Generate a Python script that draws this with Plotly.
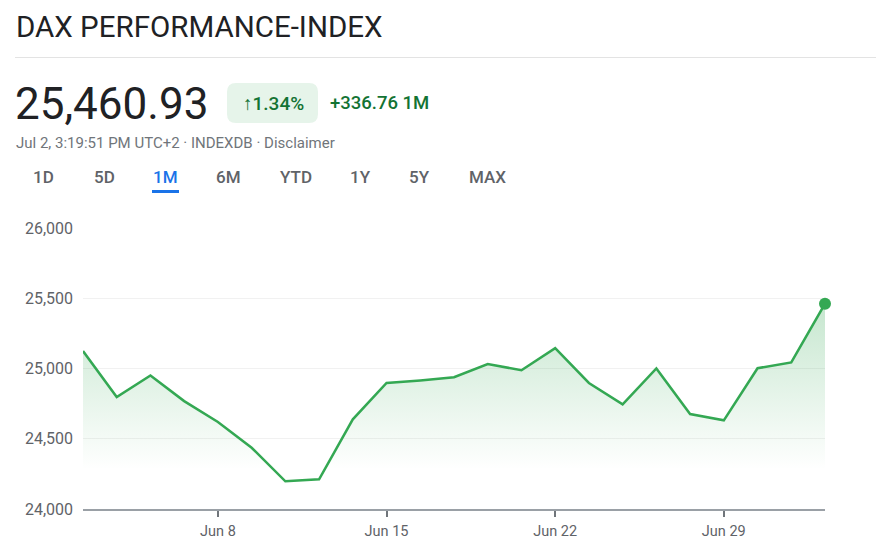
import plotly.graph_objects as go

# ---- data ----
dates = ["Jun 2", "Jun 3", "Jun 4", "Jun 5",
         "Jun 8", "Jun 9", "Jun 10", "Jun 11", "Jun 12",
         "Jun 15", "Jun 16", "Jun 17", "Jun 18", "Jun 19",
         "Jun 22", "Jun 23", "Jun 24", "Jun 25", "Jun 26",
         "Jun 29", "Jun 30", "Jul 1", "Jul 2"]
values = [25124.17, 24797, 24950, 24768,
          24619, 24436, 24197, 24211, 24638,
          24897, 24915, 24938, 25031, 24988,
          25145, 24897, 24745, 25000, 24676,
          24631, 25002, 25043, 25460.93]
tick_dates = ["Jun 8", "Jun 15", "Jun 22", "Jun 29"]
y_ticks = [24000, 24500, 25000, 25500, 26000]
range_buttons = ["1D", "5D", "1M", "6M", "YTD", "1Y", "5Y", "MAX"]
button_x = [43, 104, 165, 228, 296, 360, 419, 487]

title = "DAX PERFORMANCE-INDEX"
price = "25,460.93"
pct = "↑1.34%"
change = "+336.76 1M"
subtitle = "Jul 2, 3:19:51 PM UTC+2 · INDEXDB · Disclaimer"

OFF = 8  # page body margin
W, H = 884 - OFF, 548 - OFF
L, R, T, B = 83, 825, 228, 509  # page pixel coords of plot area
GREEN = "#34a853"
TEXT_GREEN = "#137333"
FONT = "Roboto"


def px(x):
    return (x - L) / (R - L)


def py(y):
    return (B - y) / (B - T)


fig = go.Figure()
fig.add_trace(go.Scatter(
    x=dates, y=values, mode="lines",
    line=dict(color=GREEN, width=2.5),
    fill="tozeroy",
    fillgradient=dict(type="vertical",
                      colorscale=[[0, "rgba(52,168,83,0)"], [1, "rgba(52,168,83,0.28)"]],
                      start=24280, stop=values[-1]),
    hoverinfo="skip", cliponaxis=False, showlegend=False))
fig.add_trace(go.Scatter(
    x=[dates[-1]], y=[values[-1]], mode="markers",
    marker=dict(color=GREEN, size=12),
    cliponaxis=False, showlegend=False, hoverinfo="skip"))

annotations = [
    dict(text=title, x=px(14), y=py(27), xanchor="left", yanchor="middle",
         font=dict(family=FONT, size=29.5, color="#202124")),
    dict(text=price, x=px(13), y=py(104), xanchor="left", yanchor="middle",
         font=dict(family=FONT, size=44, color="#202124")),
    dict(text=pct, x=px(273), y=py(103), xanchor="center", yanchor="middle",
         font=dict(family=FONT, size=19, color=TEXT_GREEN, weight=500)),
    dict(text=change, x=px(328), y=py(103), xanchor="left", yanchor="middle",
         font=dict(family=FONT, size=18.5, color=TEXT_GREEN, weight=500)),
    dict(text=subtitle, x=px(14), y=py(143), xanchor="left", yanchor="middle",
         font=dict(family=FONT, size=15, color="#70757a")),
]
for lab, bx in zip(range_buttons, button_x):
    annotations.append(dict(
        text=lab, x=px(bx), y=py(177), xanchor="center", yanchor="middle",
        font=dict(family=FONT, size=17, weight=500,
                  color="#1a73e8" if lab == "1M" else "#5f6368")))
for a in annotations:
    a.update(xref="paper", yref="paper", showarrow=False)


def rounded_rect(x0, y0, x1, y1, r):
    X = px
    Y = py
    return (f"M {X(x0 + r)},{Y(y0)} L {X(x1 - r)},{Y(y0)} Q {X(x1)},{Y(y0)} {X(x1)},{Y(y0 + r)} "
            f"L {X(x1)},{Y(y1 - r)} Q {X(x1)},{Y(y1)} {X(x1 - r)},{Y(y1)} "
            f"L {X(x0 + r)},{Y(y1)} Q {X(x0)},{Y(y1)} {X(x0)},{Y(y1 - r)} "
            f"L {X(x0)},{Y(y0 + r)} Q {X(x0)},{Y(y0)} {X(x0 + r)},{Y(y0)} Z")


shapes = [
    dict(type="line", xref="paper", yref="paper", x0=px(15), x1=px(884),
         y0=py(57.5), y1=py(57.5), line=dict(color="#e3e3e3", width=1)),
    dict(type="path", xref="paper", yref="paper",
         path=rounded_rect(227, 83, 318, 123, 9),
         fillcolor="#e6f4ea", line=dict(width=0), layer="below"),
    dict(type="line", xref="paper", yref="paper", x0=px(152), x1=px(179),
         y0=py(191.5), y1=py(191.5), line=dict(color="#1a73e8", width=3)),
]

fig.update_layout(
    width=W, height=H,
    margin=dict(l=L - OFF, r=884 - R, t=T - OFF, b=548 - B, pad=0),
    paper_bgcolor="white", plot_bgcolor="white",
    font=dict(family=FONT, color="#5f6368"),
    annotations=annotations, shapes=shapes,
    xaxis=dict(type="category", range=[0, len(dates) - 1], automargin=False,
               tickmode="array", tickvals=tick_dates, ticktext=tick_dates,
               showgrid=False, zeroline=False,
               showline=True, linecolor="#9aa0a6", linewidth=1.5,
               ticks="outside", ticklen=6, tickwidth=2, tickcolor="#70757a",
               ticklabelstandoff=2,
               tickfont=dict(size=14.5, color="#5f6368", family=FONT)),
    yaxis=dict(range=[24000, 26000], tickmode="array", tickvals=y_ticks,
               automargin=False,
               tickformat=",", showgrid=True, gridcolor="#f1f1f1", gridwidth=1,
               zeroline=False, showline=False, ticks="",
               ticklabelstandoff=9,
               tickfont=dict(size=16, color="#5f6368", family=FONT)),
)

fig.write_html("out.html")
